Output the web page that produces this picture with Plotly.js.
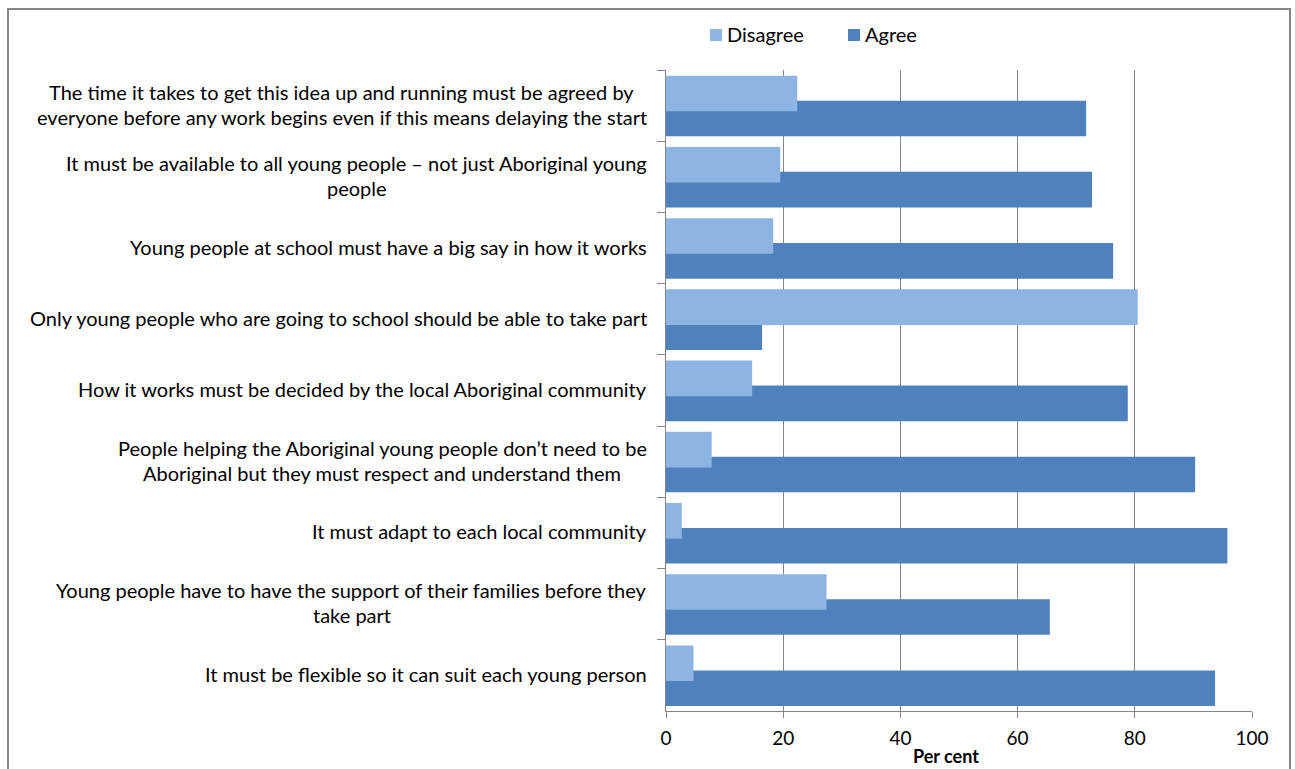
<!DOCTYPE html>
<html>
<head>
<meta charset="utf-8">
<script src="https://cdn.plot.ly/plotly-3.0.1.min.js"></script>
<style>html,body{margin:0;padding:0;background:#fff;}#chart{width:1295px;height:769px;}</style>
</head>
<body>
<div id="chart"></div>
<script>
const categories = [
  "The time it takes to get this idea up and running must be agreed by<br>everyone before any work begins even if this means delaying the start",
  "It must be available to all young people \u2013 not just Aboriginal young<br>people",
  "Young people at school must have a big say in how it works",
  "Only young people who are going to school should be able to take part",
  "How it works must be decided by the local Aboriginal community",
  "People helping the Aboriginal young people don\u2019t need to be<br>Aboriginal but they must respect and understand them",
  "It must adapt to each local community",
  "Young people have to have the support of their families before they<br>take part",
  "It must be flexible so it can suit each young person"
];
const disagree = [22.4, 19.5, 18.3, 80.5, 14.7, 7.8, 2.7, 27.4, 4.7];
const agree    = [71.7, 72.7, 76.3, 16.4, 78.8, 90.3, 95.8, 65.5, 93.7];
const seriesNames = ["Disagree", "Agree"];
const seriesColors = ["#8EB4E3", "#4F81BD"];
const xTicks = [0, 20, 40, 60, 80, 100];
const xTitle = "Per cent";

const FONT = "Lato, 'Open Sans', sans-serif";
const GRID = "#868686";

const traces = [
  {type: "bar", orientation: "h", name: seriesNames[1], x: agree, y: categories,
   marker: {color: seriesColors[1]}, offset: -0.07, width: 0.5, hoverinfo: "x", showlegend: false},
  {type: "bar", orientation: "h", name: seriesNames[0], x: disagree, y: categories,
   marker: {color: seriesColors[0]}, offset: -0.42, width: 0.5, hoverinfo: "x", showlegend: false}
];

const L = 666, R = 1252, T = 70, B = 710.7;
const pw = R - L, ph = B - T;
const px = v => (v - L) / pw;
const py = v => (B - v) / ph;

const annotations = [];
categories.forEach((c, i) => {
  const lines = c.split("<br>");
  const n = lines.length;
  lines.forEach((ln, j) => {
    annotations.push({
      xref: "paper", yref: "y", x: 0, y: c, xanchor: "center", yanchor: "middle",
      text: ln, showarrow: false, font: {family: FONT, size: 20, color: "#000"},
      yshift: 1.5 - ((j - (n - 1) / 2) * 25)
    });
  });
});
const nLabelAnn = annotations.length;

annotations.push({xref: "paper", yref: "paper", x: px(946), y: py(756), xanchor: "center", yanchor: "middle",
  text: "<b>" + xTitle + "</b>", showarrow: false, font: {family: FONT, size: 18, color: "#000"}});

// legend (custom, to match spacing)
const legendX = [710, 848];
const shapes = [{type: "rect", xref: "paper", yref: "paper", x0: px(8), x1: px(1290), y0: py(800), y1: py(9),
            line: {color: GRID, width: 2}, fillcolor: "rgba(0,0,0,0)", layer: "below"}];
seriesNames.forEach((nm, i) => {
  shapes.push({type: "rect", xref: "paper", yref: "paper", x0: px(legendX[i]), x1: px(legendX[i] + 12),
    y0: py(41), y1: py(29), line: {width: 0}, fillcolor: seriesColors[i]});
  annotations.push({xref: "paper", yref: "paper", x: px(legendX[i] + 15), y: py(34.5), xanchor: "left", yanchor: "middle",
    text: nm, showarrow: false, font: {family: FONT, size: 20, color: "#000"}});
});

const layout = {
  width: 1295, height: 769,
  margin: {l: L, r: 1295 - R, t: T, b: 769 - B, pad: 0},
  paper_bgcolor: "#fff", plot_bgcolor: "#fff",
  font: {family: FONT, size: 19, color: "#000"},
  barmode: "overlay",
  showlegend: false,
  xaxis: {range: [0, 100], tickvals: xTicks, ticktext: xTicks.map(String), ticks: "outside", ticklen: 6,
          tickcolor: GRID, showgrid: true, gridcolor: GRID, gridwidth: 1, showline: true, linecolor: GRID,
          linewidth: 1, zeroline: false, ticklabelstandoff: 4,
          tickfont: {family: FONT, size: 19, color: "#000"}, fixedrange: true},
  yaxis: {type: "category", range: [categories.length - 0.5, -0.5], showticklabels: false,
          ticks: "outside", tickson: "boundaries", ticklen: 8, tickcolor: GRID, showline: true,
          linecolor: GRID, linewidth: 1, showgrid: false, zeroline: false, fixedrange: true},
  annotations: annotations,
  shapes: shapes
};

Plotly.newPlot("chart", traces, layout, {displayModeBar: false, staticPlot: true}).then(gd => {
  // each label block centred, with the right edge of its widest line at x = 647
  const nodes = gd.querySelectorAll(".annotation");
  const widths = [];
  for (let k = 0; k < nLabelAnn; k++) widths[k] = nodes[k].querySelector(".annotation-text").getBBox().width;
  let k = 0;
  const upd = {};
  categories.forEach(c => {
    const n = c.split("<br>").length;
    let maxW = 0;
    for (let j = 0; j < n; j++) maxW = Math.max(maxW, widths[k + j]);
    const centerPx = 647 - maxW / 2;
    for (let j = 0; j < n; j++) upd["annotations[" + (k + j) + "].x"] = px(centerPx);
    k += n;
  });
  return Plotly.relayout(gd, upd);
});
</script>
</body>
</html>
